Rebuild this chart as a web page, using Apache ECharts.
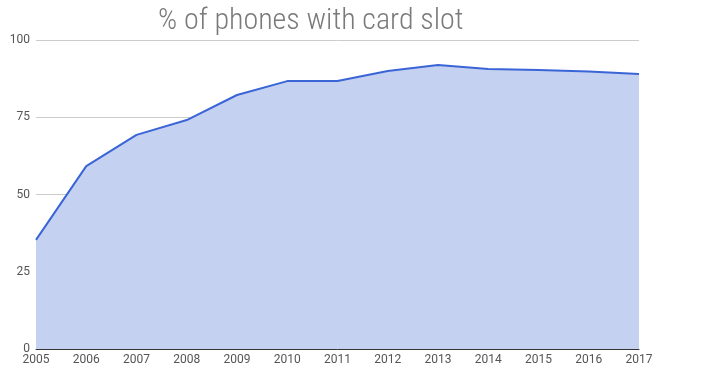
<!DOCTYPE html>
<html><head><meta charset="utf-8">
<script src="https://cdn.jsdelivr.net/npm/echarts@6/dist/echarts.min.js"></script>
<style>html,body{margin:0;padding:0;background:#fff}#c{width:728px;height:370px}</style>
</head><body><div id="c"></div>
<script>
const years = ['2005','2006','2007','2008','2009','2010','2011','2012','2013','2014','2015','2016','2017'];
const pctWithCardSlot = [35.3, 59.2, 69.3, 74.1, 82.2, 86.7, 86.7, 90.0, 91.9, 90.6, 90.3, 89.8, 89.0];
const yTicks = [0, 25, 50, 75, 100];

const chart = echarts.init(document.getElementById('c'), null, {renderer: 'canvas'});
chart.setOption({
  animation: false,
  title: {
    text: '% of phones with card slot',
    left: 158, top: 6, padding: 0,
    textStyle: {fontFamily: 'Roboto Condensed', fontWeight: 300, fontSize: 30, color: '#7a7a7a'}
  },
  grid: {left: 36, right: 89, top: 40, bottom: 21, containLabel: false},
  xAxis: {
    type: 'category', data: years, boundaryGap: false,
    axisLine: {lineStyle: {color: '#333', width: 1}},
    axisTick: {show: false},
    axisLabel: {color: '#555', fontFamily: 'Roboto', fontSize: 12, margin: 5, interval: 0}
  },
  yAxis: {
    type: 'value', min: yTicks[0], max: yTicks[yTicks.length-1], interval: 25,
    axisLine: {show: false}, axisTick: {show: false},
    axisLabel: {color: '#555', fontFamily: 'Roboto', fontSize: 12, margin: 6},
    splitLine: {lineStyle: {color: '#cccccc', width: 1}}
  },
  series: [{
    type: 'line', data: pctWithCardSlot, symbol: 'none',
    lineStyle: {color: '#3a65d6', width: 2},
    areaStyle: {color: '#c4d1f1', opacity: 1}
  }]
});
</script></body></html>
